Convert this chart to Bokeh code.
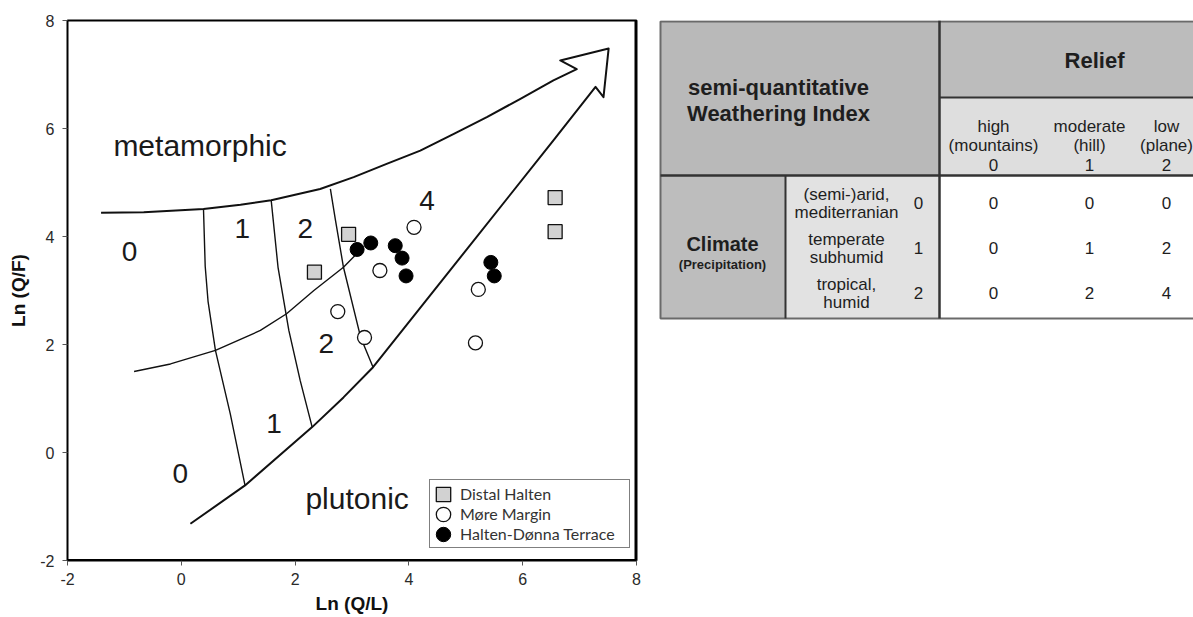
from bokeh.plotting import figure
from bokeh.models import Range1d, Legend, LegendItem, Span
from bokeh.layouts import row
from bokeh.embed import file_html
from bokeh.resources import INLINE
from bokeh.core.properties import value

# ---------------- data: sample points  (Ln(Q/L), Ln(Q/F)) ----------------
distal_x = [2.34, 2.94, 6.57, 6.57]
distal_y = [3.34, 4.04, 4.72, 4.09]
more_x = [2.75, 3.22, 3.49, 4.09, 5.22, 5.17]
more_y = [2.61, 2.13, 3.37, 4.17, 3.02, 2.03]
hd_x = [3.09, 3.33, 3.76, 3.88, 3.95, 5.44, 5.50]
hd_y = [3.76, 3.88, 3.83, 3.60, 3.27, 3.52, 3.27]
series_names = ["Distal Halten", "Møre Margin", "Halten-Dønna Terrace"]

# ---------------- diagram field boundaries ----------------
meta_x = [-1.41, -0.66, 0.39, 1.04, 1.58, 2.44, 3.03, 3.62, 4.20, 4.79, 5.37, 5.96, 6.54, 6.95]
meta_y = [4.44, 4.45, 4.51, 4.59, 4.67, 4.88, 5.10, 5.35, 5.59, 5.90, 6.21, 6.55, 6.89, 7.10]
head_x = [6.66, 7.51, 7.42, 7.28]
head_y = [7.26, 7.48, 6.58, 6.77]
pluto_x = [7.28, 6.54, 3.37, 2.85, 2.30, 1.12, 0.16]
pluto_y = [6.77, 5.78, 1.58, 1.02, 0.47, -0.61, -1.32]
mid_x = [-0.83, -0.19, 0.60, 1.39, 1.85, 2.33, 2.85, 3.12]
mid_y = [1.50, 1.64, 1.89, 2.26, 2.57, 3.00, 3.43, 3.72]
lineA_x = [0.39, 0.42, 0.47, 0.60, 0.86, 1.12]
lineA_y = [4.51, 3.45, 2.80, 1.89, 0.72, -0.61]
lineB_x = [1.58, 1.70, 1.89, 2.09, 2.30]
lineB_y = [4.67, 3.43, 2.26, 1.33, 0.47]
lineC_x = [2.62, 2.71, 2.85, 3.15, 3.37]
lineC_y = [4.88, 4.30, 3.43, 2.14, 1.58]

zone_labels = ["0", "1", "2", "4", "2", "1", "0"]
zone_x = [-0.91, 1.07, 2.18, 4.32, 2.55, 1.63, -0.02]
zone_y = [3.72, 4.15, 4.14, 4.67, 2.01, 0.53, -0.38]
field_labels = ["metamorphic", "plutonic"]
field_x = [0.33, 3.09]
field_y = [5.69, -0.86]

ticks = [-2, 0, 2, 4, 6, 8]

# ---------------- table data ----------------
table_title = ["semi-quantitative", "Weathering Index"]
relief_title = "Relief"
relief_labels = [["high", "(mountains)", "0"], ["moderate", "(hill)", "1"], ["low", "(plane)", "2"]]
climate_title = ["Climate", "(Precipitation)"]
climate_labels = [["(semi-)arid,", "mediterranian"], ["temperate", "subhumid"], ["tropical,", "humid"]]
climate_scores = ["0", "1", "2"]
swi_values = [[0, 0, 0], [0, 1, 2], [0, 2, 4]]

FONT = "Liberation Sans"

# ================= left: diagram =================
p = figure(width=655, height=617, x_range=Range1d(-2, 8), y_range=Range1d(-2, 8),
           output_backend="svg", toolbar_location=None,
           min_border_left=67, min_border_right=19, min_border_top=20, min_border_bottom=57)
p.xgrid.visible = False
p.ygrid.visible = False
p.background_fill_color = "white"
p.border_fill_color = "white"
p.outline_line_color = "black"
p.outline_line_width = 2

for ax in (p.xaxis[0], p.yaxis[0]):
    ax.ticker = ticks
    ax.major_label_overrides = {t: str(t) for t in ticks}
    ax.minor_tick_line_color = None
    ax.major_tick_in = 0
    ax.major_tick_out = 5
    ax.major_tick_line_color = "#555555"
    ax.axis_line_color = "black"
    ax.major_label_text_font = FONT
    ax.major_label_text_font_size = "16px"
    ax.major_label_text_color = "#2a2a2a"
    ax.axis_label_text_font = FONT
    ax.axis_label_text_font_style = "bold"
    ax.axis_label_text_font_size = "19px"
    ax.axis_label_text_color = "#111111"
p.xaxis.axis_label = "Ln (Q/L)"
p.yaxis.axis_label = "Ln (Q/F)"
p.xaxis.major_label_standoff = 7
p.xaxis.axis_label_standoff = 5
p.yaxis.major_label_standoff = 8
p.yaxis.axis_label_standoff = 8

p.add_layout(Span(location=8, dimension="height", line_color="black", line_width=4))
p.add_layout(Span(location=-2, dimension="width", line_color="black", line_width=3))

# arrow outline: metamorphic curve -> arrow head -> plutonic curve
p.line(meta_x + head_x + pluto_x[1:], meta_y + head_y + pluto_y[1:],
       line_color="#111111", line_width=2, line_join="round")
for lx, ly in ((mid_x, mid_y), (lineA_x, lineA_y), (lineB_x, lineB_y), (lineC_x, lineC_y)):
    p.line(lx, ly, line_color="#111111", line_width=1.4, line_join="round")

p.text(zone_x, zone_y, text=zone_labels, text_font=value(FONT), text_font_size="28px",
       text_align="center", text_baseline="middle", text_color="#1a1a1a")
p.text(field_x, field_y, text=field_labels, text_font=value(FONT), text_font_size="30px",
       text_align="center", text_baseline="middle", text_color="#1a1a1a")

r1 = p.rect(distal_x, distal_y, width=14, height=14, width_units="screen", height_units="screen",
            fill_color="#d2d2d2", line_color="#111111", line_width=1.3)
r2 = p.ellipse(more_x, more_y, width=14, height=14, width_units="screen", height_units="screen",
               fill_color="white", line_color="#111111", line_width=1.3)
r3 = p.ellipse(hd_x, hd_y, width=14, height=14, width_units="screen", height_units="screen",
               fill_color="black", line_color="black", line_width=1)

legend = Legend(items=[LegendItem(label=series_names[0], renderers=[r1]),
                       LegendItem(label=series_names[1], renderers=[r2]),
                       LegendItem(label=series_names[2], renderers=[r3])],
                location=(362, 12), orientation="vertical")
legend.border_line_color = "black"
legend.border_line_width = 1.5
legend.background_fill_color = "white"
legend.background_fill_alpha = 1
legend.label_text_font = "Lato"
legend.label_text_font_size = "16px"
legend.label_text_color = "#333333"
legend.padding = 4
legend.spacing = 1
legend.margin = 0
legend.label_height = 18
legend.label_width = 165
legend.glyph_height = 18
legend.glyph_width = 18
legend.label_standoff = 8
p.add_layout(legend)

# ================= right: table =================
# frame of this figure is aligned with the diagram frame (pixel rows 20..560)
t = figure(width=538, height=617, x_range=Range1d(655, 1193), y_range=Range1d(560, 20),
           output_backend="svg", toolbar_location=None, x_axis_type=None, y_axis_type=None,
           min_border=0, min_border_left=0, min_border_right=0, min_border_top=20, min_border_bottom=57)
t.xgrid.visible = False
t.ygrid.visible = False
t.outline_line_color = None
t.background_fill_color = "white"
t.border_fill_color = "white"

X0, X1, X2, XR = 660, 785, 939, 1215
Y0, Y1, Y2, Y3 = 20, 97, 175, 318
col_cx = [993, 1089, 1166]
row_cy = [202, 247, 292]

t.quad(left=[X0, X2, X2, X0, X1, X2], right=[X2, XR, XR, X1, X2, XR],
       top=[Y0, Y0, Y1, Y2, Y2, Y2], bottom=[Y2, Y1, Y2, Y3, Y3, Y3],
       fill_color=["#b9b9b9", "#bcbcbc", "#dedede", "#bdbdbd", "#e2e2e2", "white"],
       line_color=None)
t.line([XR, X0, X0, XR], [Y0 + 1, Y0 + 1, Y3, Y3], line_color="#6a6a6a", line_width=2)
t.segment(x0=[X2, X0, X1, X2], y0=[Y0, Y2, Y2, Y1], x1=[X2, XR, X1, XR], y1=[Y3, Y2, Y3, Y1],
          line_color="#333333", line_width=[2.5, 2.5, 2, 2])

tc = "#1e1e1e"
t.text([778, 778], [87, 113], text=table_title, text_font=value(FONT), text_font_style="bold",
       text_font_size="22px", text_align="center", text_baseline="middle", text_color=tc)
t.text([1094], [60], text=[relief_title], text_font=value(FONT), text_font_style="bold",
       text_font_size="22px", text_align="center", text_baseline="middle", text_color=tc)
hx, hy, ht = [], [], []
for cx, lines in zip(col_cx, relief_labels):
    for k, s in enumerate(lines):
        hx.append(cx); hy.append(126 + 19 * k); ht.append(s)
t.text(hx, hy, text=ht, text_font=value(FONT), text_font_size="17px",
       text_align="center", text_baseline="middle", text_color=tc)
t.text([722], [243], text=[climate_title[0]], text_font=value(FONT), text_font_style="bold",
       text_font_size="20px", text_align="center", text_baseline="middle", text_color=tc)
t.text([722], [264], text=[climate_title[1]], text_font=value(FONT), text_font_style="bold",
       text_font_size="13px", text_align="center", text_baseline="middle", text_color=tc)
cx_, cy_, ct_ = [], [], []
for cy, lines in zip(row_cy, climate_labels):
    cx_ += [846, 846]; cy_ += [cy - 8, cy + 10]; ct_ += lines
t.text(cx_, cy_, text=ct_, text_font=value(FONT), text_font_size="17px",
       text_align="center", text_baseline="middle", text_color=tc)
t.text([918] * 3, row_cy, text=climate_scores, text_font=value(FONT), text_font_size="17px",
       text_align="center", text_baseline="middle", text_color=tc)
vx, vy, vt = [], [], []
for cy, vals in zip(row_cy, swi_values):
    for cx, v in zip(col_cx, vals):
        vx.append(cx); vy.append(cy); vt.append(str(v))
t.text(vx, vy, text=vt, text_font=value(FONT), text_font_size="17px",
       text_align="center", text_baseline="middle", text_color=tc)

layout = row(p, t)
open("out.html", "w").write(file_html(layout, INLINE))
